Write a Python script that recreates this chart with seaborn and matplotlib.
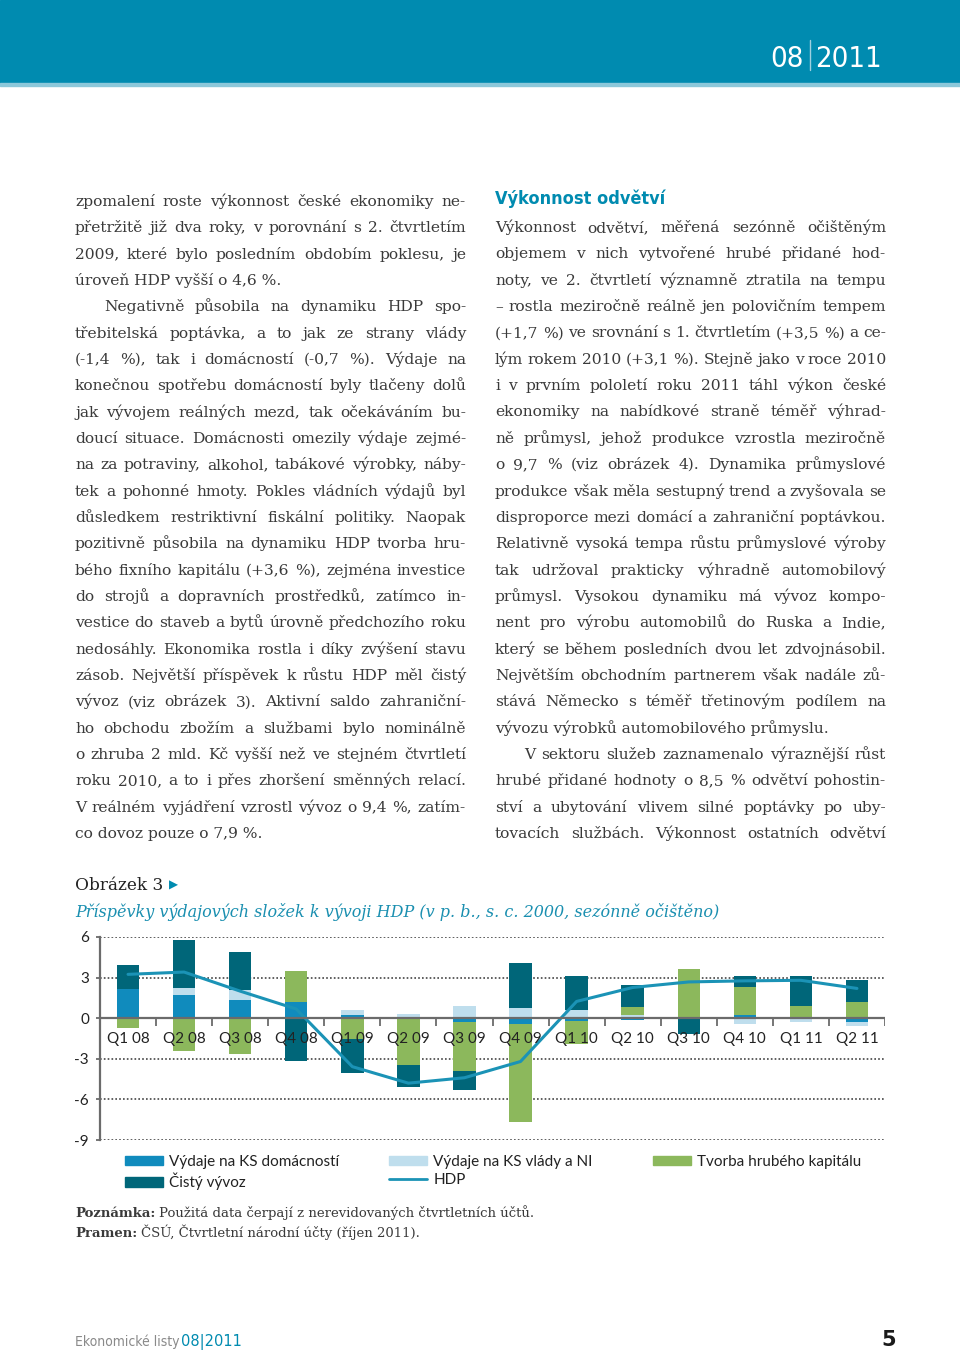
import matplotlib
matplotlib.use("Agg")
import matplotlib.pyplot as plt
import numpy as np
import pandas as pd
import seaborn as sns
from matplotlib.lines import Line2D
from matplotlib.patches import Patch, Rectangle

W, H = 960, 1352

QUARTERS = ["Q1 08", "Q2 08", "Q3 08", "Q4 08", "Q1 09", "Q2 09", "Q3 09",
            "Q4 09", "Q1 10", "Q2 10", "Q3 10", "Q4 10", "Q1 11", "Q2 11"]
DOMACNOSTI = [2.15, 1.70, 1.37, 1.22, 0.25, 0.0, -0.25, -0.46, -0.17, -0.12, 0.0, 0.20, 0.10, -0.30]
VLADY = [0.0, 0.54, 0.70, 0.0, 0.32, 0.29, 0.88, 0.73, 0.60, 0.24, 0.0, -0.46, -0.30, -0.30]
TVORBA = [-0.70, -2.44, -2.68, 2.27, -1.50, -3.46, -3.66, -7.20, -1.70, 0.60, 3.66, 2.10, 0.80, 1.22]
VYVOZ = [1.78, 3.56, 2.80, -3.17, -2.56, -1.59, -1.39, 3.37, 2.50, 1.60, -1.15, 0.85, 2.20, 1.58]
HDP = [3.24, 3.41, 2.00, 0.68, -3.58, -4.80, -4.40, -3.20, 1.24, 2.27, 2.68, 2.76, 2.80, 2.20]
Y_TICKS = [6, 3, 0, -3, -6, -9]

SERIES_NAMES = ["Výdaje na KS domácností", "Výdaje na KS vlády a NI",
                "Tvorba hrubého kapitálu", "Čistý vývoz"]
SERIES_COLORS = ["#108bbd", "#bfdeed", "#8cb85c", "#006679"]
HDP_COLOR = "#1b93b6"
TEAL = "#008bb0"
TEXT = "#3a3a3a"

LEFT_COL = [
    ("zpomalení roste výkonnost české ekonomiky ne-", "j"),
    ("přetržitě již dva roky, v porovnání s 2. čtvrtletím", "j"),
    ("2009, které bylo posledním obdobím poklesu, je", "j"),
    ("úroveň HDP vyšší o 4,6 %.", "l"),
    ("Negativně působila na dynamiku HDP spo-", "i"),
    ("třebitelská poptávka, a to jak ze strany vlády", "j"),
    ("(-1,4 %), tak i domácností (-0,7 %). Výdaje na", "j"),
    ("konečnou spotřebu domácností byly tlačeny dolů", "j"),
    ("jak vývojem reálných mezd, tak očekáváním bu-", "j"),
    ("doucí situace. Domácnosti omezily výdaje zejmé-", "j"),
    ("na za potraviny, alkohol, tabákové výrobky, náby-", "j"),
    ("tek a pohonné hmoty. Pokles vládních výdajů byl", "j"),
    ("důsledkem restriktivní fiskální politiky. Naopak", "j"),
    ("pozitivně působila na dynamiku HDP tvorba hru-", "j"),
    ("bého fixního kapitálu (+3,6 %), zejména investice", "j"),
    ("do strojů a dopravních prostředků, zatímco in-", "j"),
    ("vestice do staveb a bytů úrovně předchozího roku", "j"),
    ("nedosáhly. Ekonomika rostla i díky zvýšení stavu", "j"),
    ("zásob. Největší příspěvek k růstu HDP měl čistý", "j"),
    ("vývoz (viz obrázek 3). Aktivní saldo zahraniční-", "j"),
    ("ho obchodu zbožím a službami bylo nominálně", "j"),
    ("o zhruba 2 mld. Kč vyšší než ve stejném čtvrtletí", "j"),
    ("roku 2010, a to i přes zhoršení směnných relací.", "j"),
    ("V reálném vyjádření vzrostl vývoz o 9,4 %, zatím-", "j"),
    ("co dovoz pouze o 7,9 %.", "l"),
]

RIGHT_COL = [
    ("Výkonnost odvětví, měřená sezónně očištěným", "j"),
    ("objemem v nich vytvořené hrubé přidané hod-", "j"),
    ("noty, ve 2. čtvrtletí významně ztratila na tempu", "j"),
    ("– rostla meziročně reálně jen polovičním tempem", "j"),
    ("(+1,7 %) ve srovnání s 1. čtvrtletím (+3,5 %) a ce-", "j"),
    ("lým rokem 2010 (+3,1 %). Stejně jako v roce 2010", "j"),
    ("i v prvním pololetí roku 2011 táhl výkon české", "j"),
    ("ekonomiky na nabídkové straně téměř výhrad-", "j"),
    ("ně průmysl, jehož produkce vzrostla meziročně", "j"),
    ("o 9,7 % (viz obrázek 4). Dynamika průmyslové", "j"),
    ("produkce však měla sestupný trend a zvyšovala se", "j"),
    ("disproporce mezi domácí a zahraniční poptávkou.", "j"),
    ("Relativně vysoká tempa růstu průmyslové výroby", "j"),
    ("tak udržoval prakticky výhradně automobilový", "j"),
    ("průmysl. Vysokou dynamiku má vývoz kompo-", "j"),
    ("nent pro výrobu automobilů do Ruska a Indie,", "j"),
    ("který se během posledních dvou let zdvojnásobil.", "j"),
    ("Největším obchodním partnerem však nadále zů-", "j"),
    ("stává Německo s téměř třetinovým podílem na", "j"),
    ("vývozu výrobků automobilového průmyslu.", "l"),
    ("V sektoru služeb zaznamenalo výraznější růst", "i"),
    ("hrubé přidané hodnoty o 8,5 % odvětví pohostin-", "j"),
    ("ství a ubytování vlivem silné poptávky po uby-", "j"),
    ("tovacích službách. Výkonnost ostatních odvětví", "j"),
]


def fx(px):
    return px / W


def fy(py):
    return 1 - py / H


def put_line(fig, renderer, text, mode, x0, x1, y, **kw):
    if mode == "i":
        x0 += 29
    words = text.split(" ")
    if mode == "l" or len(words) == 1:
        fig.text(fx(x0), fy(y), text, va="baseline", **kw)
        return
    widths = []
    for word in words:
        t = fig.text(0, 0, word, **kw)
        widths.append(t.get_window_extent(renderer).width)
        t.remove()
    gap = (x1 - x0 - sum(widths)) / (len(words) - 1)
    x = x0
    for word, wd in zip(words, widths):
        fig.text(fx(x), fy(y), word, va="baseline", **kw)
        x += wd + gap


def draw_page(fig):
    renderer = fig.canvas.get_renderer()
    body = dict(family="DejaVu Serif", fontsize=11.15, color=TEXT)

    # header band
    fig.add_artist(Rectangle((0, fy(83)), 1, 83 / H, transform=fig.transFigure,
                             color=TEAL, zorder=0))
    fig.add_artist(Rectangle((0, fy(86)), 1, 3 / H, transform=fig.transFigure,
                             color="#8cc8da", zorder=0))
    head = dict(family="DejaVu Sans", fontsize=21, color="white", va="baseline",
                fontstretch="condensed", fontweight="light")
    fig.text(fx(804), fy(67), "08", ha="right", **head)
    fig.text(fx(815), fy(67), "2011", ha="left", **head)
    fig.add_artist(Line2D([fx(809.5)] * 2, [fy(40), fy(70)], transform=fig.transFigure,
                          color="#9fd0e0", lw=1))

    for i, (text, mode) in enumerate(LEFT_COL):
        put_line(fig, renderer, text, mode, 75, 466, 206 + i * 26.33, **body)

    fig.text(fx(495), fy(204), "Výkonnost odvětví", family="DejaVu Sans",
             fontsize=13, fontweight="bold", color=TEAL, va="baseline",
             fontstretch="condensed")
    for i, (text, mode) in enumerate(RIGHT_COL):
        put_line(fig, renderer, text, mode, 495, 886, 232 + i * 26.35, **body)

    # figure caption
    fig.text(fx(75), fy(890), "Obrázek 3", family="DejaVu Serif", fontsize=12.2,
             color="#222222", va="baseline")
    fig.text(fx(169), fy(889), "▶", family="DejaVu Sans", fontsize=8.5,
             color=TEAL, va="baseline")
    fig.text(fx(75), fy(917),
             "Příspěvky výdajových složek k vývoji HDP (v p. b., s. c. 2000, sezónně očištěno)",
             family="DejaVu Serif", style="italic", fontsize=11.5, color="#1a8fb0",
             va="baseline")

    # notes
    note = dict(family="DejaVu Serif", fontsize=9.5, va="baseline", color=TEXT)
    t = fig.text(fx(75), fy(1217), "Poznámka:", fontweight="bold", **note)
    x = 75 + t.get_window_extent(renderer).width + 4
    fig.text(fx(x), fy(1217), "Použitá data čerpají z nerevidovaných čtvrtletních účtů.", **note)
    t = fig.text(fx(75), fy(1237), "Pramen:", fontweight="bold", **note)
    x = 75 + t.get_window_extent(renderer).width + 4
    fig.text(fx(x), fy(1237), "ČSÚ, Čtvrtletní národní účty (říjen 2011).", **note)

    # footer
    fig.text(fx(75), fy(1346), "Ekonomické listy", family="DejaVu Sans", fontsize=10,
             color="#8a8a8a", va="baseline", fontstretch="condensed")
    fig.text(fx(181), fy(1346), "08|2011", family="DejaVu Sans", fontsize=10.5,
             color=TEAL, va="baseline")
    fig.text(fx(896), fy(1346), "5", family="DejaVu Sans", fontsize=15,
             fontweight="bold", color="#1a1a1a", va="baseline", ha="right")


def draw_chart(fig):
    ax = fig.add_axes([fx(100), fy(1140), 785 / W, 203 / H])
    x = np.arange(len(QUARTERS))
    frame = pd.DataFrame({name: vals for name, vals in
                          zip(SERIES_NAMES, [DOMACNOSTI, VLADY, TVORBA, VYVOZ])})

    pos_base = np.zeros(len(QUARTERS))
    neg_base = np.zeros(len(QUARTERS))
    for name, color in zip(SERIES_NAMES, SERIES_COLORS):
        vals = frame[name].to_numpy()
        base = np.where(vals >= 0, pos_base, neg_base)
        ax.bar(x, vals, bottom=base, width=0.4, color=color, linewidth=0, zorder=3)
        pos_base += np.clip(vals, 0, None)
        neg_base += np.clip(vals, None, 0)

    sns.lineplot(x=x, y=HDP, color=HDP_COLOR, linewidth=2.2, ax=ax, zorder=4)

    ax.set_xlim(-0.5, len(QUARTERS) - 0.5)
    ax.set_ylim(-9, 6)
    ax.set_yticks(Y_TICKS)
    ax.set_yticklabels([str(v) for v in Y_TICKS], family="Lato", fontsize=11, color="#222222")
    ax.set_xticks([])
    for v in Y_TICKS:
        if v != 0:
            ax.axhline(v, color="#444444", lw=1.2, ls=(0, (1, 1.3)), zorder=1)
    ax.axhline(0, color="#6b6b6b", lw=1.6, zorder=5)
    ax.vlines(x + 0.5, -0.55, 0, color="#6b6b6b", lw=1.3, zorder=5)
    for xi, label in zip(x, QUARTERS):
        ax.text(xi, -1.5, label, ha="center", va="center", family="Lato",
                fontsize=11, color="#222222", zorder=6)

    for side in ["top", "right", "bottom"]:
        ax.spines[side].set_visible(False)
    ax.spines["left"].set_color("#6b6b6b")
    ax.spines["left"].set_linewidth(1.6)
    ax.tick_params(axis="y", length=3, width=1.3, color="#6b6b6b", pad=5, left=True)
    ax.grid(False)
    ax.set_facecolor("none")

    handles = [Patch(color=c) for c in SERIES_COLORS]
    line_handle = Line2D([], [], color=HDP_COLOR, lw=2)
    leg_kw = dict(frameon=False, loc="upper left", handlelength=2.5, handleheight=0.55,
                  handletextpad=0.4, borderpad=0, borderaxespad=0, labelspacing=0.25,
                  prop={"family": "Lato", "size": 11}, bbox_transform=fig.transFigure)
    groups = [
        ([handles[0], handles[3]], [SERIES_NAMES[0], SERIES_NAMES[3]], 125),
        ([handles[1], line_handle], [SERIES_NAMES[1], "HDP"], 389),
        ([handles[2]], [SERIES_NAMES[2]], 653),
    ]
    for hs, labels, left in groups:
        leg = fig.legend(hs, labels, bbox_to_anchor=(fx(left), fy(1155)), **leg_kw)
        for text in leg.get_texts():
            text.set_color("#222222")


def main():
    sns.set_theme(style="white")
    plt.rcParams["font.family"] = ["DejaVu Sans"]
    fig = plt.figure(figsize=(W / 100, H / 100), dpi=100)
    fig.patch.set_facecolor("white")
    draw_chart(fig)
    draw_page(fig)
    fig.savefig("out.png", dpi=100)


if __name__ == "__main__":
    main()
